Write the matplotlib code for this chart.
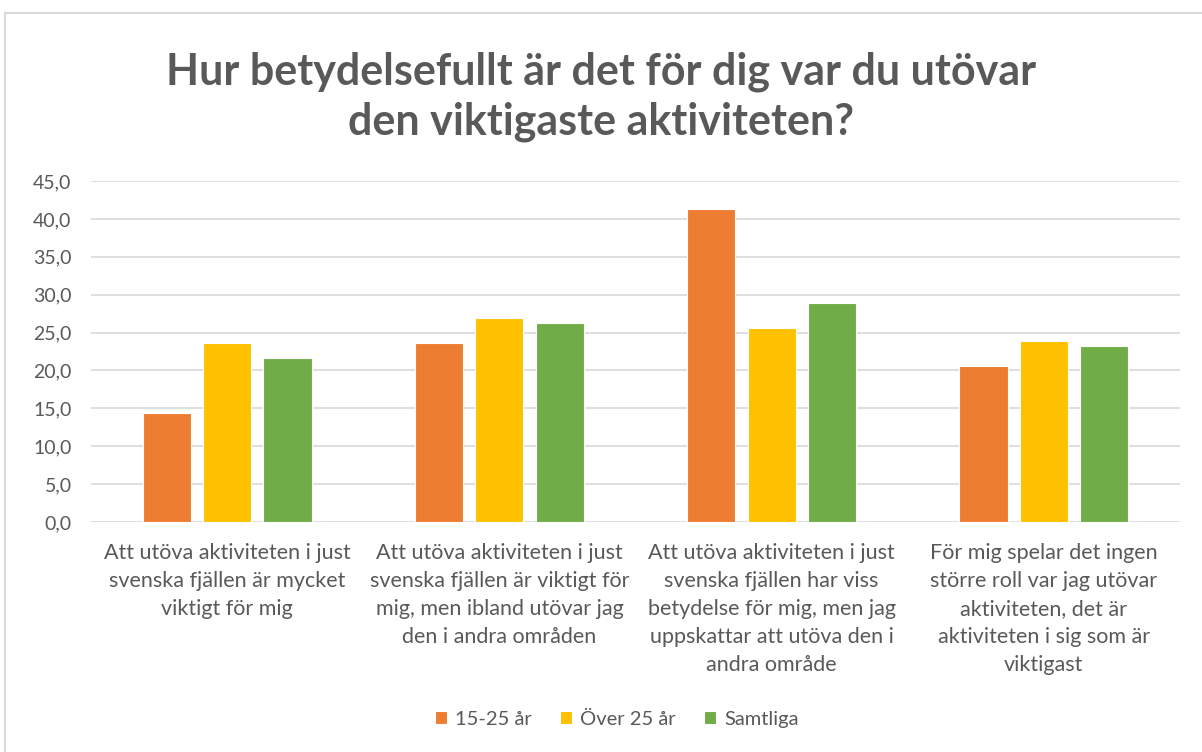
import numpy as np
import matplotlib.pyplot as plt
from matplotlib.patches import Rectangle

plt.rcParams['font.family'] = ['Lato', 'DejaVu Sans']

categories = [
    "Att utöva aktiviteten i just\nsvenska fjällen är mycket\nviktigt för mig",
    "Att utöva aktiviteten i just\nsvenska fjällen är viktigt för\nmig, men ibland utövar jag\nden i andra områden",
    "Att utöva aktiviteten i just\nsvenska fjällen har viss\nbetydelse för mig, men jag\nuppskattar att utöva den i\nandra område",
    "För mig spelar det ingen\nstörre roll var jag utövar\naktiviteten, det är\naktiviteten i sig som är\nviktigast",
]
series_names = ["15-25 år", "Över 25 år", "Samtliga"]
young = [14.4, 23.6, 41.3, 20.6]
older = [23.6, 26.9, 25.6, 23.9]
total = [21.6, 26.3, 28.9, 23.2]
colors = ["#ED7D31", "#FFC000", "#70AD47"]
yticks = [0, 5, 10, 15, 20, 25, 30, 35, 40, 45]

grey = "#595959"

fig = plt.figure(figsize=(12.02, 7.52), dpi=100)
# chart frame
fig.patches.append(Rectangle((5 / 1202, -0.1), 1.2, 1 - 13 / 752 + 0.1,
                             transform=fig.transFigure, fill=False,
                             edgecolor="#d9d9d9", linewidth=1.5))

ax = fig.add_axes([91 / 1202, 1 - 522 / 752, (1180 - 91) / 1202, (522 - 181) / 752])

x = np.arange(len(categories))
w = 0.177
off = 0.222
for i, (vals, name) in enumerate(zip([young, older, total], series_names)):
    ax.bar(x + (i - 1) * off, vals, w, color=colors[i], label=name,
           edgecolor="white", linewidth=0.8, zorder=3)

ax.set_xlim(-0.5, len(categories) - 0.5)
ax.set_ylim(0, 45)
ax.set_yticks(yticks)
ax.set_yticklabels([f"{v:.1f}".replace(".", ",") for v in yticks])
ax.set_xticks(x)
ax.set_xticklabels(categories, linespacing=1.5, fontsize=15.5)
ax.tick_params(axis="both", length=0, colors=grey)
ax.tick_params(axis="y", labelsize=14, pad=14)
ax.tick_params(axis="x", pad=15)
ax.grid(axis="y", color="#d9d9d9", linewidth=1.2, zorder=0)
for s in ax.spines.values():
    s.set_visible(False)

fig.text(0.5, 1 - 97 / 752, "Hur betydelsefullt är det för dig var du utövar\nden viktigaste aktiviteten?",
         ha="center", va="center", fontsize=31, fontweight="bold", color=grey, linespacing=1.3)

leg = fig.legend(loc="center", bbox_to_anchor=(617 / 1202, 1 - 719 / 752), ncol=3, frameon=False,
                 fontsize=14.5, handlelength=0.6, handleheight=0.6, handletextpad=0.4,
                 columnspacing=1.4)
for t in leg.get_texts():
    t.set_color(grey)

fig.savefig("out.png", dpi=100)
